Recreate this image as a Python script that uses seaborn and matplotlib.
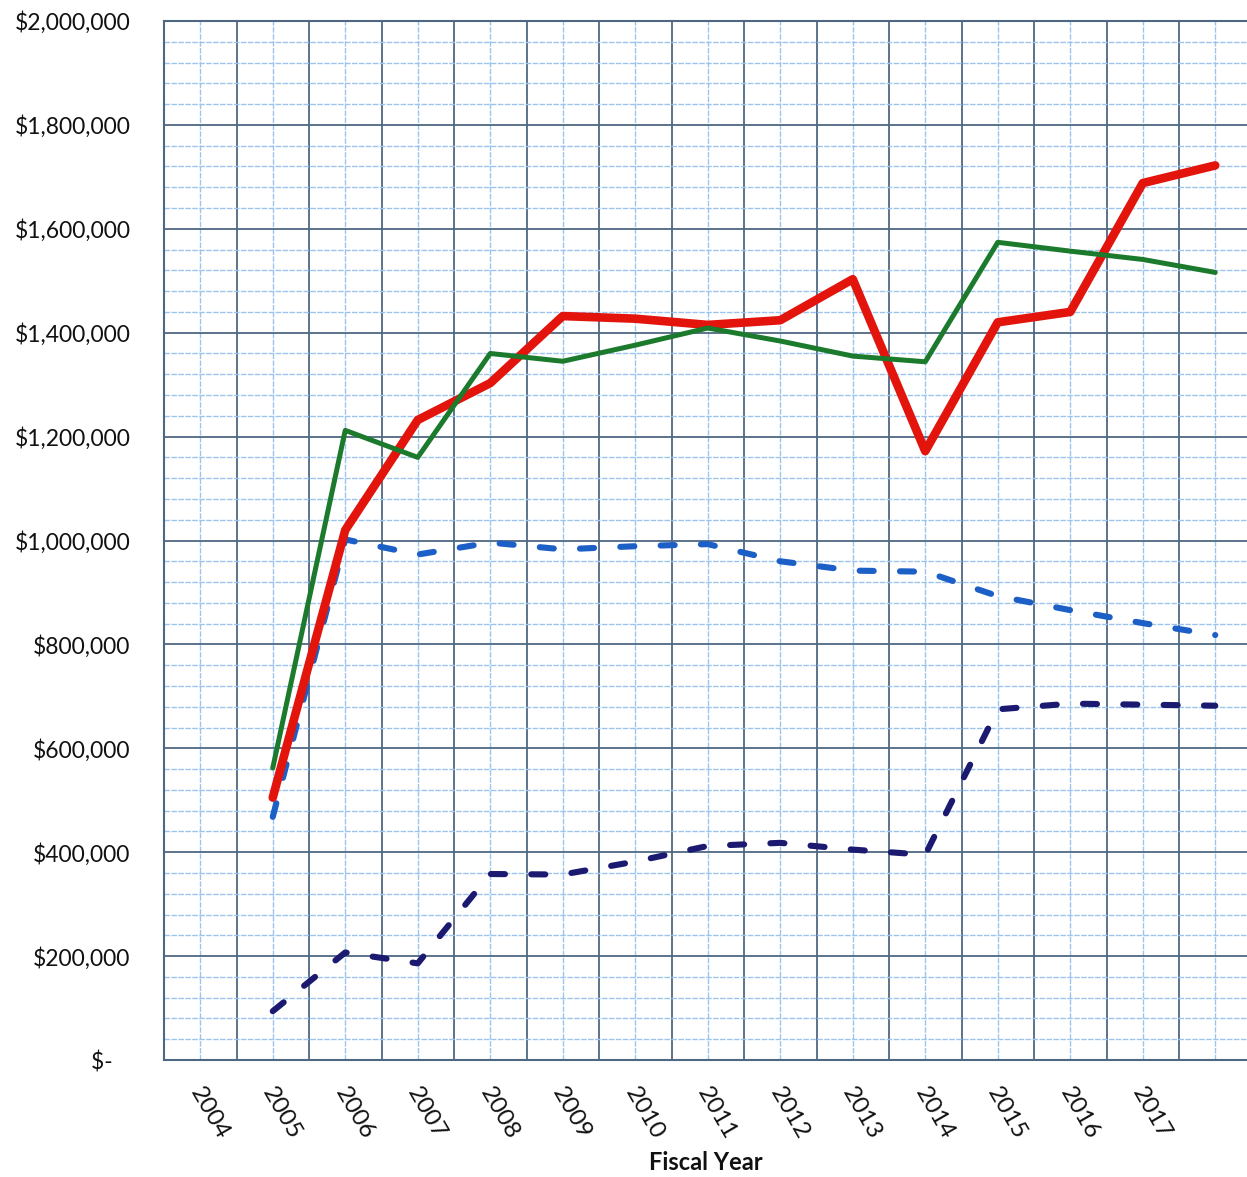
import matplotlib
matplotlib.use("Agg")
import matplotlib.pyplot as plt
import matplotlib.transforms as mtransforms
from matplotlib.ticker import FuncFormatter, MultipleLocator
import pandas as pd
import seaborn as sns

# fiscal years on the axis (2018 point is plotted but not labelled)
years = list(range(2004, 2019))
data_years = list(range(2005, 2019))

red_line = [505000, 1020000, 1232000, 1303000, 1432000, 1427000, 1415000,
            1424000, 1503000, 1172000, 1420000, 1440000, 1688000, 1722000]
green_line = [562000, 1212000, 1160000, 1360000, 1345000, 1376000, 1409000,
              1384000, 1355000, 1344000, 1574000, 1557000, 1541000, 1516000]
blue_dashed = [468000, 1002000, 973000, 996000, 983000, 989000, 993000,
               960000, 942000, 940000, 893000, 866000, 841000, 818000]
navy_dashed = [94000, 207000, 186000, 358000, 357000, 382000, 412000,
               418000, 405000, 395000, 675000, 686000, 684000, 682000]

df = pd.DataFrame({
    "pos": [y - years[0] for y in data_years],
    "red": red_line,
    "green": green_line,
    "blue": blue_dashed,
    "navy": navy_dashed,
})

sns.set_theme(style="white")
plt.rcParams["font.family"] = ["Lato", "DejaVu Sans"]

fig = plt.figure(figsize=(12.47, 11.77), dpi=100)
ax = fig.add_axes([164 / 1247, (1177 - 1060) / 1177, (1247 - 164) / 1247, (1060 - 21) / 1177])

major_c = "#4e6882"
minor_c = "#9cc4ec"

# dashed series first, solid ones on top
sns.lineplot(data=df, x="pos", y="blue", ax=ax, color="#1c5fc6", linewidth=4.4,
             linestyle=(0, (2.3, 4.3)), dash_capstyle="round", solid_capstyle="round")
sns.lineplot(data=df, x="pos", y="navy", ax=ax, color="#1b1a70", linewidth=4.4,
             linestyle=(0, (2.3, 4.3)), dash_capstyle="round", solid_capstyle="round")
sns.lineplot(data=df, x="pos", y="red", ax=ax, color="#e2140c", linewidth=6.2,
             solid_capstyle="round", solid_joinstyle="round")
sns.lineplot(data=df, x="pos", y="green", ax=ax, color="#1c7a2c", linewidth=3.6,
             solid_capstyle="round", solid_joinstyle="round")

ax.set_xlim(-0.5, -0.5 + (1247 - 164) / 72.5)
ax.set_ylim(0, 2000000)

# graph-paper grid
ax.set_xticks(range(len(years)))
ax.set_xticklabels([str(y) for y in years[:-1]] + [""])
ax.xaxis.set_minor_locator(MultipleLocator(1, offset=0.5))
ax.yaxis.set_major_locator(MultipleLocator(200000))
ax.yaxis.set_minor_locator(MultipleLocator(40000))
ax.grid(axis="x", which="major", color=minor_c, linewidth=1.0, linestyle=(0, (4, 1)))
ax.grid(axis="y", which="minor", color=minor_c, linewidth=1.0, linestyle=(0, (4, 1)))
ax.grid(axis="x", which="minor", color=major_c, linewidth=1.3)
ax.grid(axis="y", which="major", color=major_c, linewidth=1.3)
ax.set_axisbelow(True)

ax.yaxis.set_major_formatter(FuncFormatter(lambda v, p: "$-   " if v == 0 else f"${v:,.0f}"))
ax.tick_params(axis="both", which="both", length=0)
ax.tick_params(axis="y", labelsize=16.5, pad=24, labelcolor="#111111")
ax.tick_params(axis="x", labelsize=17.5, pad=17, labelcolor="#111111")

offset = mtransforms.ScaledTranslation(9 / 100, 0, fig.dpi_scale_trans)
for lbl in ax.get_xticklabels():
    lbl.set_rotation(-60)
    lbl.set_ha("center")
    lbl.set_transform(lbl.get_transform() + offset)

for side in ["left", "bottom", "top"]:
    ax.spines[side].set_color(major_c)
    ax.spines[side].set_linewidth(1.5)
ax.spines["right"].set_visible(False)

ax.set_ylabel("")
ax.set_xlabel("Fiscal Year", fontsize=17, fontweight="bold", labelpad=6, color="#111111")

fig.savefig("out.png", dpi=100)
